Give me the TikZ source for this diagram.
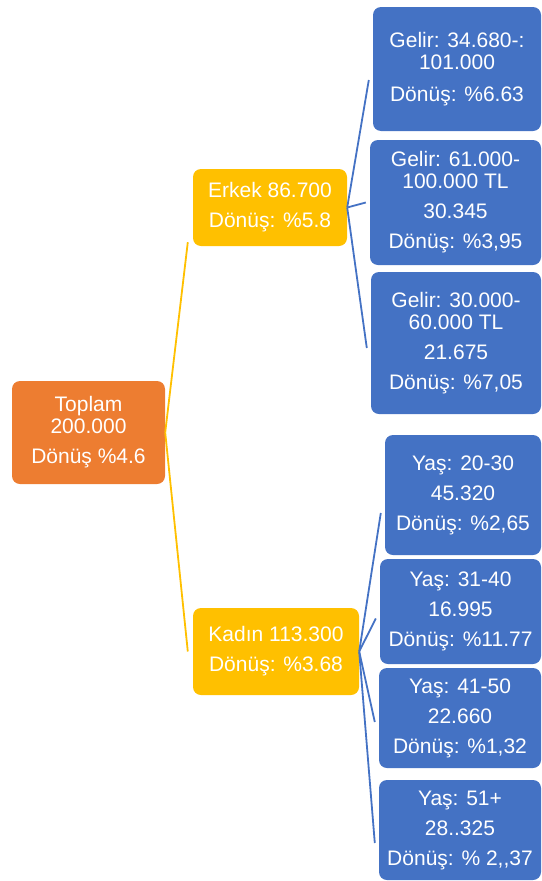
\documentclass[tikz,border=0pt]{standalone}
\usepackage{fontspec}
\setmainfont{Liberation Sans}
\usepackage{tikz}
\usetikzlibrary{positioning,calc}

\definecolor{topOrange}{HTML}{ED7D31}
\definecolor{midGold}{HTML}{FFC000}
\definecolor{leafBlue}{HTML}{4472C4}

\begin{document}
\begin{tikzpicture}[
    x=1pt, y=-1pt,
    box/.style={rectangle, rounded corners=8pt, inner sep=0pt, align=center,
        text=white, font=\fontsize{21pt}{22pt}\selectfont},
    rootbox/.style={box, fill=topOrange},
    midbox/.style={box, fill=midGold},
    leafbox/.style={box, fill=leafBlue},
    goldline/.style={draw=midGold, line width=1.8pt},
    blueline/.style={draw=leafBlue, line width=1.8pt}
]
    \useasboundingbox (0,0) rectangle (541,881);

    % Root
    \node[rootbox, minimum width=153pt, minimum height=103pt] (toplam) at (88.5,432.5) {
        Toplam\\200.000\\[8pt]Dönüş \%4.6
    };

    % Second level
    \node[midbox, minimum width=154pt, minimum height=77pt] (erkek) at (270,207.5) {
        Erkek 86.700\\[8pt]Dönüş: \%5.8
    };
    \node[midbox, minimum width=166pt, minimum height=87pt] (kadin) at (276,651.5) {
        Kadın 113.300\\[8pt]Dönüş: \%3.68
    };

    % Income groups
    \node[leafbox, minimum width=168pt, minimum height=124pt] (gelir1) at (457,69) {
        Gelir: 34.680-:\\101.000\\[10pt]Dönüş: \%6.63
    };
    \node[leafbox, minimum width=171pt, minimum height=125pt] (gelir2) at (455.5,202.5) {
        Gelir: 61.000-\\100.000 TL\\[8pt]30.345\\[8pt]Dönüş: \%3,95
    };
    \node[leafbox, minimum width=170pt, minimum height=142pt] (gelir3) at (456,343) {
        Gelir: 30.000-\\60.000 TL\\[8pt]21.675\\[8pt]Dönüş: \%7,05
    };

    % Age groups
    \node[leafbox, minimum width=156pt, minimum height=120pt] (yas1) at (463,495) {
        Yaş: 20-30\\[8pt]45.320\\[8pt]Dönüş: \%2,65
    };
    \node[leafbox, minimum width=161pt, minimum height=105pt] (yas2) at (460.5,611.5) {
        Yaş: 31-40\\[8pt]16.995\\[8pt]Dönüş: \%11.77
    };
    \node[leafbox, minimum width=162pt, minimum height=100pt] (yas3) at (460,718) {
        Yaş: 41-50\\[8pt]22.660\\[8pt]Dönüş: \%1,32
    };
    \node[leafbox, minimum width=162pt, minimum height=100pt] (yas4) at (460,830) {
        Yaş: 51+\\[8pt]28..325\\[8pt]Dönüş: \% 2,{},37
    };

    % Connectors
    \draw[goldline] (toplam.east) -- ([xshift=-5pt,yshift=4pt]erkek.south west);
    \draw[goldline] (toplam.east) -- ([xshift=-5pt]kadin.west);

    \draw[blueline] (erkek.east) -- ([xshift=-4pt,yshift=-11pt]gelir1.west);
    \draw[blueline] (erkek.east) -- ([xshift=-4pt]gelir2.west);
    \draw[blueline] (erkek.east) -- ([xshift=-4pt,yshift=-5pt]gelir3.west);

    \draw[blueline] (kadin.east) -- ([xshift=-4pt,yshift=-18pt]yas1.west);
    \draw[blueline] (kadin.east) -- ([xshift=-4pt,yshift=-7pt]yas2.west);
    \draw[blueline] (kadin.east) -- ([xshift=-4pt,yshift=-4pt]yas3.west);
    \draw[blueline] (kadin.east) -- ([xshift=-4pt,yshift=-13pt]yas4.west);
\end{tikzpicture}
\end{document}
